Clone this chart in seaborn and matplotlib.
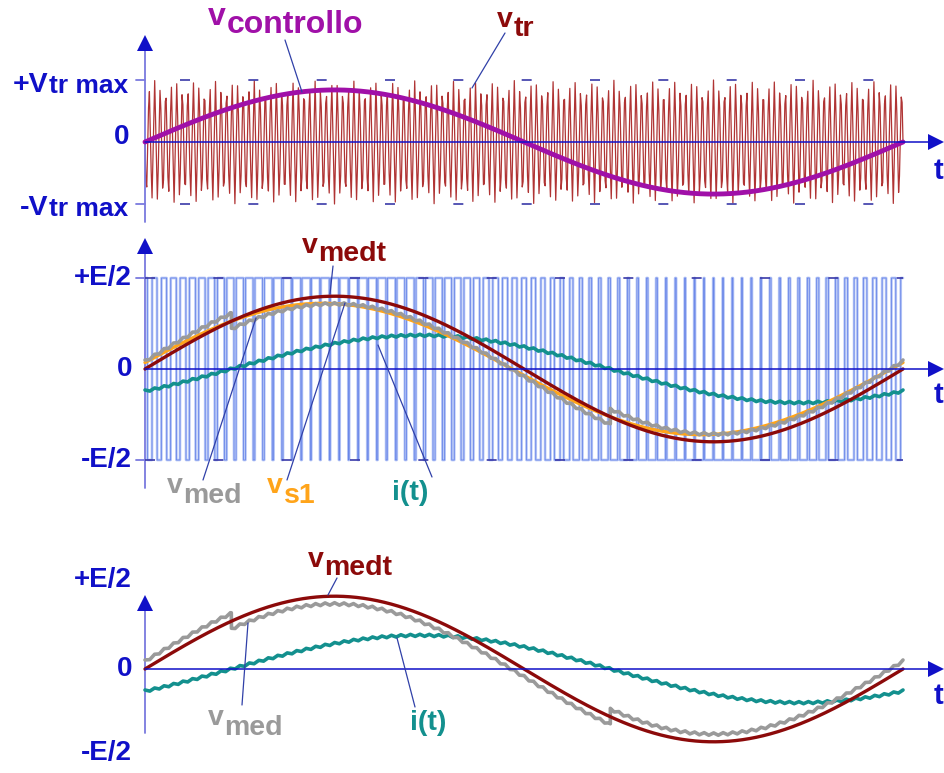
import numpy as np
import pandas as pd
import seaborn as sns
import matplotlib.pyplot as plt
from matplotlib.lines import Line2D

# waveform parameters (one period of the modulating wave)
n_carrier_top = 137      # triangle periods drawn in the top panel
n_samples_top = 860      # the triangle is drawn with few samples (uneven peaks)
n_carrier_pwm = 80       # switching periods in the two lower panels
m_top = 0.84             # v_controllo peak / V_tr max
m_pwm = 0.80             # v_medt peak / (E/2)
i_peak = 0.37            # i(t) peak, in E/2 units
i_lag_deg = 41           # lag of i(t) behind v_medt
dead_time_drop = 0.085   # step of v_med caused by dead time
i_ripple = 0.012         # switching ripple on i(t)
med_ripple = 0.014       # switching ripple on v_med

e_labels = [("+E/2", 1), ("0", 0), ("-E/2", -1)]

# colours
C_AX = '#1010c8'
C_AXL = '#7a7ade'
C_LEAD = '#3040a8'
C_CTRL = '#a010a8'
C_TR = '#b03434'
C_MEDT = '#8c0a0a'
C_S1 = '#ffa41a'
C_MED = '#9a9a9a'
C_I = '#13908e'

# build the waveforms
def tri(x):
    return 1 - 4 * np.abs(x - np.round(x))

t = np.linspace(0, 1, 40001)
w = 2 * np.pi * t
phi = np.radians(i_lag_deg)
t_tr = np.linspace(0, 1, n_samples_top + 1)

top = pd.DataFrame({'t': t, 'v_controllo': m_top * np.sin(w)})
carrier = pd.DataFrame({'t': t_tr, 'v_tr': tri(t_tr * n_carrier_top + 0.25)})

mid = pd.DataFrame({
    't': t,
    'pwm': np.where(m_pwm * np.sin(w) > tri(t * n_carrier_pwm + 0.5), 1.0, -1.0),
    'v_medt': m_pwm * np.sin(w),
    'v_med': (m_pwm * np.sin(w) - dead_time_drop * np.sign(np.sin(w - phi))
              + med_ripple * tri(t * n_carrier_pwm)),
    'v_s1': m_pwm * np.sin(w) - dead_time_drop * 4 / np.pi * np.sin(w - phi),
    'i': i_peak * np.sin(w - phi) + i_ripple * tri(t * n_carrier_pwm),
})

# figure in pixel terms
W, H = 944, 773
X0, X1 = 145, 903
sns.set_theme(style='white')
plt.rcParams['font.family'] = ['Liberation Sans', 'DejaVu Sans']
plt.rcParams['font.weight'] = 'bold'
fig = plt.figure(figsize=(W / 100, H / 100), dpi=100)


def make_panel(band, zero_px, unit_px):
    a, b = band
    ax = fig.add_axes([0, 1 - b / H, 1, (b - a) / H])
    ax.set_xlim(-X0 / (X1 - X0), (W - X0) / (X1 - X0))
    ax.set_ylim((zero_px - b) / unit_px, (zero_px - a) / unit_px)
    ax.axis('off')
    ax.zero_px, ax.unit_px = zero_px, unit_px
    return ax


def tx(px):
    return (px - X0) / (X1 - X0)


def ty(ax, py):
    return (ax.zero_px - py) / ax.unit_px


def axes_cross(ax, y_bottom_px, y_tip_px, ticks):
    ax.plot([0, 0], [ty(ax, y_bottom_px), ty(ax, y_tip_px + 8)], color=C_AXL, lw=1.3)
    ax.plot([0], [ty(ax, y_tip_px + 8)], marker='^', ms=11.5, color=C_AX, mew=0)
    ax.plot([0, tx(930)], [0, 0], color=C_AX, lw=1.1, zorder=3)
    ax.plot([tx(936)], [0], marker='>', ms=11.5, color=C_AX, mew=0)
    for yv in ticks:
        ax.plot([tx(136), 0], [yv, yv], color=C_AXL, lw=1.3)


def dashed(ax, y, start_px):
    for yv in (y, -y):
        ln, = ax.plot([tx(start_px), 1], [yv, yv], color='#3a3aa8', lw=1.2, zorder=3)
        ln.set_dashes((6, 35))


def fig_xy(px, py):
    return px / W, 1 - py / H


def label(px, py, main, sub, color, size, sub_size=None, drop=0, ha='left'):
    sub_size = sub_size or size
    if ha == 'left':
        t1 = fig.text(*fig_xy(px, py), main, color=color, fontsize=size,
                      fontweight='bold', va='baseline', ha='left')
        if sub:
            fig.axes[0].annotate(sub, xy=(1, 0), xycoords=t1, xytext=(0.5, -drop * 0.72),
                                 textcoords='offset points', color=color, fontsize=sub_size,
                                 fontweight='bold', va='bottom', ha='left')
    else:
        t1 = fig.text(*fig_xy(px, py), sub, color=color, fontsize=sub_size,
                      fontweight='bold', va='baseline', ha='right')
        fig.axes[0].annotate(main, xy=(0, 0), xycoords=t1, xytext=(-0.5, drop * 0.72),
                             textcoords='offset points', color=color, fontsize=size,
                             fontweight='bold', va='bottom', ha='right')


def leader(p1, p2):
    fig.add_artist(Line2D([p1[0] / W, p2[0] / W], [1 - p1[1] / H, 1 - p2[1] / H],
                          transform=fig.transFigure, color=C_LEAD, lw=0.9))


# ---- top panel: carrier and control signal
ax1 = make_panel((0, 228), 142, 62)
sns.lineplot(data=carrier, x='t', y='v_tr', ax=ax1, color=C_TR, lw=0.9,
             estimator=None, sort=False, legend=False)
dashed(ax1, 1, 180)
axes_cross(ax1, 222, 35, [1, -1])
sns.lineplot(data=top, x='t', y='v_controllo', ax=ax1, color=C_CTRL, lw=3.5,
             estimator=None, sort=False, legend=False)

# ---- middle panel: pwm output and averages
ax2 = make_panel((228, 525), 369, 91)
sns.lineplot(data=mid, x='t', y='pwm', ax=ax2, color='#b6c6f6', lw=1.9,
             estimator=None, sort=False, legend=False)
sns.lineplot(data=mid, x='t', y='pwm', ax=ax2, color='#5b7ae6', lw=0.5,
             estimator=None, sort=False, legend=False)
dashed(ax2, 1, 145)
axes_cross(ax2, 488, 238, [1, -1])
for col, c, lw in [('i', C_I, 2.6), ('v_s1', C_S1, 2.4), ('v_med', C_MED, 2.6),
                   ('v_medt', C_MEDT, 2.4)]:
    sns.lineplot(data=mid, x='t', y=col, ax=ax2, color=c, lw=lw,
                 estimator=None, sort=False, legend=False)

# ---- bottom panel: averages only
ax3 = make_panel((525, 773), 669, 91)
axes_cross(ax3, 733, 595, [])
for col, c, lw in [('i', C_I, 2.6), ('v_med', C_MED, 2.6), ('v_medt', C_MEDT, 2.4)]:
    sns.lineplot(data=mid, x='t', y=col, ax=ax3, color=c, lw=lw,
                 estimator=None, sort=False, legend=False)

# ---- axis labels
label(128, 93, "+V", "tr max", C_AX, 20.5, 19, ha='right')
label(130, 150, "0", "", C_AX, 20, ha='right')
label(128, 216, "-V", "tr max", C_AX, 20.5, 19, ha='right')
for ax in (ax2, ax3):
    for txt, yv in e_labels:
        py = ax.zero_px - yv * ax.unit_px
        if ax is ax3 and yv == 1:
            py = 580
        if ax is ax3 and yv == -1:
            py = 753
        fig.text(*fig_xy(132, py), txt, color=C_AX, fontsize=20, fontweight='bold',
                 ha='right', va='center')
for py in (171, 395, 696):
    fig.text(*fig_xy(938, py), "t", color=C_AX, fontsize=21, fontweight='bold',
             ha='center', va='center')

# ---- curve labels and leader lines
label(208, 25, "v", "controllo", C_CTRL, 23, drop=8)
leader((285, 40), (302, 92))
label(497, 27, "v", "tr", C_MEDT, 20.5, drop=9)
leader((505, 33), (472, 88))

label(302, 253, "v", "medt", C_MEDT, 20.5, drop=8)
leader((333, 266), (330, 294))
label(167, 493, "v", "med", C_MED, 20.5, drop=10)
leader((203, 480), (256, 318))
label(267, 493, "v", "s1", C_S1, 20.5, drop=10)
leader((287, 480), (345, 303))
fig.text(*fig_xy(392, 500), "i(t)", color=C_I, fontsize=20.5, fontweight='bold', va='baseline')
leader((432, 477), (378, 345))

label(308, 567, "v", "medt", C_MEDT, 20.5, drop=8)
leader((337, 578), (328, 595))
label(208, 725, "v", "med", C_MED, 20.5, drop=10)
leader((242, 705), (248, 623))
fig.text(*fig_xy(410, 730), "i(t)", color=C_I, fontsize=20.5, fontweight='bold', va='baseline')
leader((415, 707), (397, 638))

plt.savefig('out.png', dpi=100)
plt.close(fig)
